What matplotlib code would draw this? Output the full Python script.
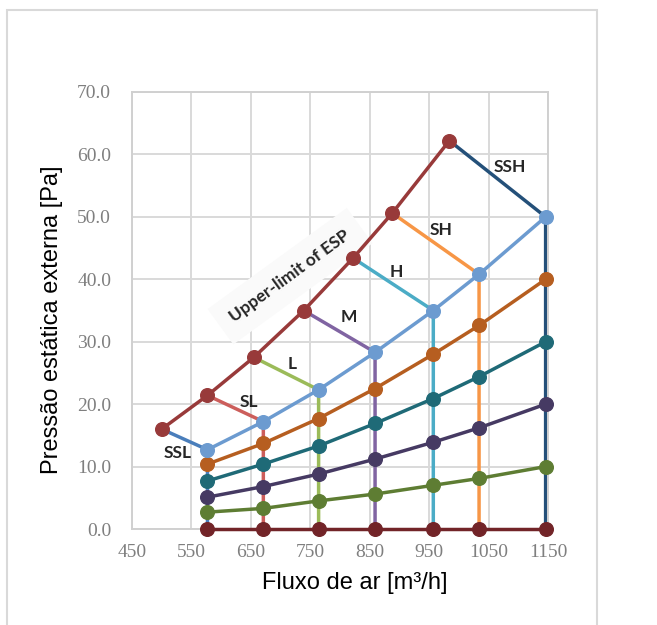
import numpy as np
import matplotlib.pyplot as plt
from matplotlib.patches import Rectangle
from matplotlib.ticker import FormatStrFormatter

# vazao em cada modo (m3/h)
fluxo = [577, 671, 764, 859, 957, 1034, 1146]
curva_max = [12.7, 17.2, 22.3, 28.3, 35.0, 40.8, 50.0]
curva_2 = [10.4, 13.7, 17.7, 22.5, 28.0, 32.6, 40.0]
curva_3 = [7.7, 10.4, 13.3, 16.9, 20.9, 24.4, 30.0]
curva_4 = [5.1, 6.8, 8.8, 11.2, 13.9, 16.2, 20.0]
curva_5 = [2.7, 3.3, 4.5, 5.6, 7.0, 8.1, 10.0]
curva_0 = [0, 0, 0, 0, 0, 0, 0]

# limite superior da ESP
lim_x = [500, 577, 655, 739, 822, 888, 984]
lim_y = [16.0, 21.4, 27.5, 35.0, 43.4, 50.6, 62.2]

modos = ["SSL", "SL", "L", "M", "H", "SH", "SSH"]
modo_cores = ["#4A7EBB", "#CC5E5B", "#9BBB59", "#8064A2", "#4BACC6", "#F79646", "#245079"]
modo_tx = [526, 646, 719, 814, 895, 970, 1085]
modo_ty = [12.2, 20.4, 26.5, 34.0, 41.1, 47.9, 58.0]

curvas = [curva_max, curva_2, curva_3, curva_4, curva_5, curva_0]
curva_cores = ["#6C9BD0", "#B65E20", "#1F6A77", "#463A63", "#5E7D33", "#722428"]

fig = plt.figure(figsize=(6.57, 6.25), dpi=100)
ax = fig.add_axes([132/657, 1-529/625, 416/657, 437/625])

lw = 2.5
ms = 9.8
for i in range(len(modos)):
    ax.plot([lim_x[i], fluxo[i], fluxo[i]], [lim_y[i], curva_max[i], 0],
            c=modo_cores[i], lw=lw, zorder=2, solid_capstyle='butt', clip_on=False)
for y, c in zip(curvas[::-1], curva_cores[::-1]):
    ax.plot(fluxo, y, c=c, lw=lw, marker='o', ms=ms, zorder=3, clip_on=False)
ax.plot(lim_x, lim_y, c="#983A3A", lw=lw, marker='o', ms=ms, zorder=4, clip_on=False)

for m, x, y in zip(modos, modo_tx, modo_ty):
    ax.text(x, y, m, ha='center', va='center', fontsize=12.5, fontweight='bold',
            family='Lato', color='#262626', zorder=5)
ax.text(716, 40.5, "Upper-limit of ESP", rotation=36, ha='center', va='center',
        fontsize=12.5, fontweight='bold', family='Lato', color='#262626', zorder=1,
        bbox=dict(boxstyle='square,pad=0.8', fc='#fafafa', ec='none'))

ax.set_xlim(450, 1150)
ax.set_ylim(0, 70)
ax.set_xticks(np.arange(450, 1151, 100))
ax.set_yticks(np.arange(0, 71, 10))
ax.yaxis.set_major_formatter(FormatStrFormatter('%.1f'))
ax.grid(c='#d9d9d9', lw=1.4, zorder=0)
ax.set_axisbelow(True)
for s in ax.spines.values():
    s.set_color('#d0d0d0')
    s.set_linewidth(1.4)
ax.tick_params(length=0, labelsize=14, labelcolor='#7f7f7f')
ax.tick_params(axis='y', pad=15)
ax.tick_params(axis='x', pad=11)
for t in ax.get_xticklabels() + ax.get_yticklabels():
    t.set_family('Liberation Serif')

ax.set_xlabel("Fluxo de ar [m³/h]", fontsize=17, family='Liberation Sans')
ax.set_ylabel("Pressão estática externa [Pa]", fontsize=17, family='Liberation Sans')
ax.xaxis.set_label_coords(0.536, -0.124)
ax.yaxis.set_label_coords(-0.192, 0.478)
ax.xaxis.label.set_va('center')
ax.yaxis.label.set_va('center')

fig.patches.append(Rectangle((7/657, -0.05), 590/657, 1.05-10/625, transform=fig.transFigure,
                             fill=False, ec='#d9d9d9', lw=1.5))

plt.savefig("out.png", dpi=100)
plt.close()
